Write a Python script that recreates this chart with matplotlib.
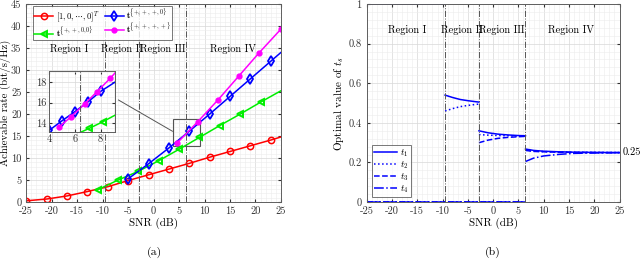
import numpy as np
import matplotlib
matplotlib.use("Agg")
import matplotlib.pyplot as plt
from matplotlib.ticker import MultipleLocator

plt.rcParams["font.family"] = "serif"
plt.rcParams["font.serif"] = ["cmr10", "DejaVu Serif"]
plt.rcParams["mathtext.fontset"] = "cm"
plt.rcParams["axes.unicode_minus"] = False
plt.rcParams["axes.formatter.use_mathtext"] = False

# ---- data: left panel (achievable rate) ----
red_x = [-25, -21, -17, -13, -9, -5, -1, 3, 7, 11, 15, 19, 23, 25]
red_y = [0.3, 0.7, 1.4, 2.4, 3.5, 4.9, 6.2, 7.5, 8.8, 10.2, 11.5, 12.8, 14.1, 14.8]
green_x = [-11, -7, -3, 1, 5, 9, 13, 17, 21, 25]
green_y = [2.8, 5.0, 7.0, 9.4, 12.0, 14.7, 17.4, 20.0, 22.7, 25.3]
blue_x = [-5, -1, 3, 7, 11, 15, 19, 23, 25]
blue_y = [5.3, 8.7, 12.3, 16.1, 20.0, 24.0, 28.0, 32.0, 34.0]
mag_x = [4.6, 8.7, 12.7, 16.7, 20.7, 25]
mag_y = [13.4, 18.3, 23.3, 28.6, 33.9, 39.3]

# inset (zoomed) data
blue_in_x = [4, 5, 6, 7, 8, 9.1]
blue_in_y = [13.25, 14.2, 15.1, 16.05, 17.1, 18.0]
mag_in_x = [4.75, 5.7, 6.75, 7.7, 8.75, 9.1]
mag_in_y = [13.55, 14.6, 15.85, 17.05, 18.4, 18.9]
green_in_x = [6.4, 7.1, 8.15, 9.1]
green_in_y = [13.05, 13.45, 14.1, 14.75]

bounds = [-9.5, -2.8, 6.4]
region_names = ["Region I", "Region II", "Region III", "Region IV"]
region_left_x = [-16.5, -6.2, 1.8, 15.5]
region_right_x = [-17, -6.2, 1.8, 15.5]

# ---- data: right panel (optimal t_s) ----
r1_x = [-25, -9.5]
r2_x = [-9.5, -8, -6.5, -5, -3.5, -2.8]
r2_t1 = [0.540, 0.528, 0.518, 0.512, 0.507, 0.505]
r2_t2 = [0.460, 0.472, 0.482, 0.488, 0.493, 0.495]
r3_x = [-2.8, -1, 1, 3, 5, 6.4]
r3_t1 = [0.360, 0.350, 0.343, 0.339, 0.336, 0.335]
r3_t2 = [0.341, 0.338, 0.336, 0.335, 0.334, 0.333]
r3_t3 = [0.300, 0.313, 0.322, 0.327, 0.330, 0.332]
r4_x = [6.4, 8, 10, 13, 16, 20, 25]
r4_t1 = [0.268, 0.261, 0.257, 0.254, 0.252, 0.251, 0.250]
r4_t2 = [0.264, 0.258, 0.255, 0.253, 0.251, 0.251, 0.250]
r4_t3 = [0.261, 0.256, 0.254, 0.252, 0.251, 0.250, 0.250]
r4_t4 = [0.205, 0.222, 0.233, 0.241, 0.246, 0.248, 0.250]

xticks = list(range(-25, 26, 5))
vline_c = "#555555"
spine_c = "#5e5e5e"
fs = 7.5


def style_axes(ax):
    ax.set_axisbelow(True)
    ax.grid(True, which="major", color="#d8d8d8", lw=0.5)
    ax.grid(True, which="minor", color="#ececec", lw=0.4)
    ax.tick_params(which="both", direction="in", top=True, right=True,
                   labelsize=fs, colors="#333333", length=2.5)
    ax.tick_params(which="minor", length=0)
    for s in ax.spines.values():
        s.set_color(spine_c)
        s.set_linewidth(0.7)


fig = plt.figure(figsize=(6.4, 2.67), dpi=100)

# ================= left panel =================
ax = fig.add_axes([0.041, 0.243, 0.398, 0.742])
ax.plot(red_x, red_y, "-o", color="r", mfc="none", ms=4.5, mew=1.1, lw=1.1,
        markevery=list(range(len(red_x) - 1)), label=r"$[1,0,\cdots,0]^T$")
ax.plot(green_x, green_y, "-<", color="#00ee00", mfc="none", ms=5, mew=1.4, lw=1.1,
        markevery=list(range(len(green_x) - 1)), label=r"$\mathbf{t}^{\{+,+,0,0\}}$")
ax.plot(blue_x, blue_y, "-d", color="b", mfc="none", ms=5.5, mew=1.3, lw=1.1,
        markevery=list(range(len(blue_x) - 1)), label=r"$\mathbf{t}^{\{+,+,+,0\}}$")
ax.plot(mag_x, mag_y, "-o", color="#ff00ff", ms=3.5, lw=1.1,
        label=r"$\mathbf{t}^{\{+,+,+,+\}}$")
for b in bounds:
    ax.axvline(b, color=vline_c, ls="-.", lw=0.7)
for name, xx in zip(region_names, region_left_x):
    ax.text(xx, 34.8, name, ha="center", va="center", fontsize=fs)
ax.set_xlim(-25, 25)
ax.set_ylim(0, 45)
ax.set_xticks(xticks)
ax.set_yticks(range(0, 46, 5))
ax.xaxis.set_minor_locator(MultipleLocator(1))
ax.yaxis.set_minor_locator(MultipleLocator(1))
style_axes(ax)
ax.set_xlabel("SNR (dB)", fontsize=fs + 0.5, labelpad=1)
ax.set_ylabel("Achievable rate (bit/s/Hz)", fontsize=fs + 0.3, labelpad=0)
leg = ax.legend(loc="upper left", ncol=2, fontsize=6.2, frameon=True,
                fancybox=False, edgecolor="#555555", handlelength=2.2,
                borderpad=0.1, labelspacing=0.0, columnspacing=0.6,
                handletextpad=0.3, borderaxespad=0.0,
                bbox_to_anchor=(0.028, 0.99))
leg.get_frame().set_linewidth(0.7)

# zoom rectangle and connector
ax.add_patch(plt.Rectangle((3.8, 12.7), 5.3, 6.2, fill=False, ec="#555555", lw=0.8))
ax.plot([-6.9, 3.7], [23.2, 16.1], color="#555555", lw=0.7)

# inset
axi = fig.add_axes([0.0766, 0.5056, 0.103, 0.2285])
axi.plot(blue_in_x, blue_in_y, "-d", color="b", mfc="none", ms=5.5, mew=1.3, lw=1.1,
         markevery=list(range(5)))
axi.plot(mag_in_x, mag_in_y, "-o", color="#ff00ff", ms=3.5, lw=1.1,
         markevery=list(range(5)))
axi.plot(green_in_x, green_in_y, "-<", color="#00ee00", mfc="none", ms=5, mew=1.4,
         lw=1.1, markevery=[1, 2])
axi.axvline(bounds[2], color=vline_c, ls="-.", lw=0.7)
axi.set_xlim(4, 9.1)
axi.set_ylim(13.1, 19.1)
axi.set_xticks([4, 6, 8])
axi.set_yticks([14, 16, 18])
axi.xaxis.set_minor_locator(MultipleLocator(0.5))
axi.yaxis.set_minor_locator(MultipleLocator(0.5))
style_axes(axi)
axi.set_facecolor("white")
axi.tick_params(pad=2)

fig.text(0.242, 0.055, "(a)", ha="center", va="center", fontsize=fs + 1)

# ================= right panel =================
bx = fig.add_axes([0.573, 0.243, 0.395, 0.742])
blue = "#0000ff"
lw = 1.1
# region I (and the zero parts of t2..t4)
bx.plot(r1_x, [1, 1], "-", color=blue, lw=lw, label=r"$t_1$")
bx.plot([-25, 6.4], [0, 0], ":", color=blue, lw=lw, label=r"$t_2$")
bx.plot([-25, 6.4], [0, 0], "--", color=blue, lw=lw, label=r"$t_3$")
bx.plot([-25, 6.4], [0, 0], "-.", color=blue, lw=lw, label=r"$t_4$")
# region II
bx.plot(r2_x, r2_t1, "-", color=blue, lw=lw)
bx.plot(r2_x, r2_t2, ":", color=blue, lw=lw)
# region III
bx.plot(r3_x, r3_t1, "-", color=blue, lw=lw)
bx.plot(r3_x, r3_t2, ":", color=blue, lw=lw)
bx.plot(r3_x, r3_t3, "--", color=blue, lw=lw)
# region IV
bx.plot(r4_x, r4_t1, "-", color=blue, lw=lw)
bx.plot(r4_x, r4_t2, ":", color=blue, lw=lw)
bx.plot(r4_x, r4_t3, "--", color=blue, lw=lw)
bx.plot(r4_x, r4_t4, "-.", color=blue, lw=lw)
for b in bounds:
    bx.axvline(b, color=vline_c, ls="-.", lw=0.7)
for name, xx in zip(region_names, region_right_x):
    bx.text(xx, 0.87, name, ha="center", va="center", fontsize=fs)
bx.text(25.6, 0.25, "0.25", ha="left", va="center", fontsize=fs)
bx.set_xlim(-25, 25)
bx.set_ylim(0, 1)
bx.set_xticks(xticks)
bx.set_yticks([0, 0.2, 0.4, 0.6, 0.8, 1])
bx.set_yticklabels(["0", "0.2", "0.4", "0.6", "0.8", "1"])
bx.xaxis.set_minor_locator(MultipleLocator(1))
bx.yaxis.set_minor_locator(MultipleLocator(0.04))
style_axes(bx)
bx.set_xlabel("SNR (dB)", fontsize=fs + 0.5, labelpad=1)
bx.set_ylabel(r"Optimal value of $t_s$", fontsize=fs + 0.5, labelpad=2)
leg2 = bx.legend(loc="lower left", fontsize=6.8, frameon=True, fancybox=False,
                 edgecolor="#555555", handlelength=2.4, borderpad=0.25,
                 labelspacing=0.05, handletextpad=0.3, borderaxespad=0.0,
                 bbox_to_anchor=(0.02, 0.025))
leg2.get_frame().set_linewidth(0.7)

fig.text(0.77, 0.055, "(b)", ha="center", va="center", fontsize=fs + 1)

fig.savefig("out.png", dpi=100)
